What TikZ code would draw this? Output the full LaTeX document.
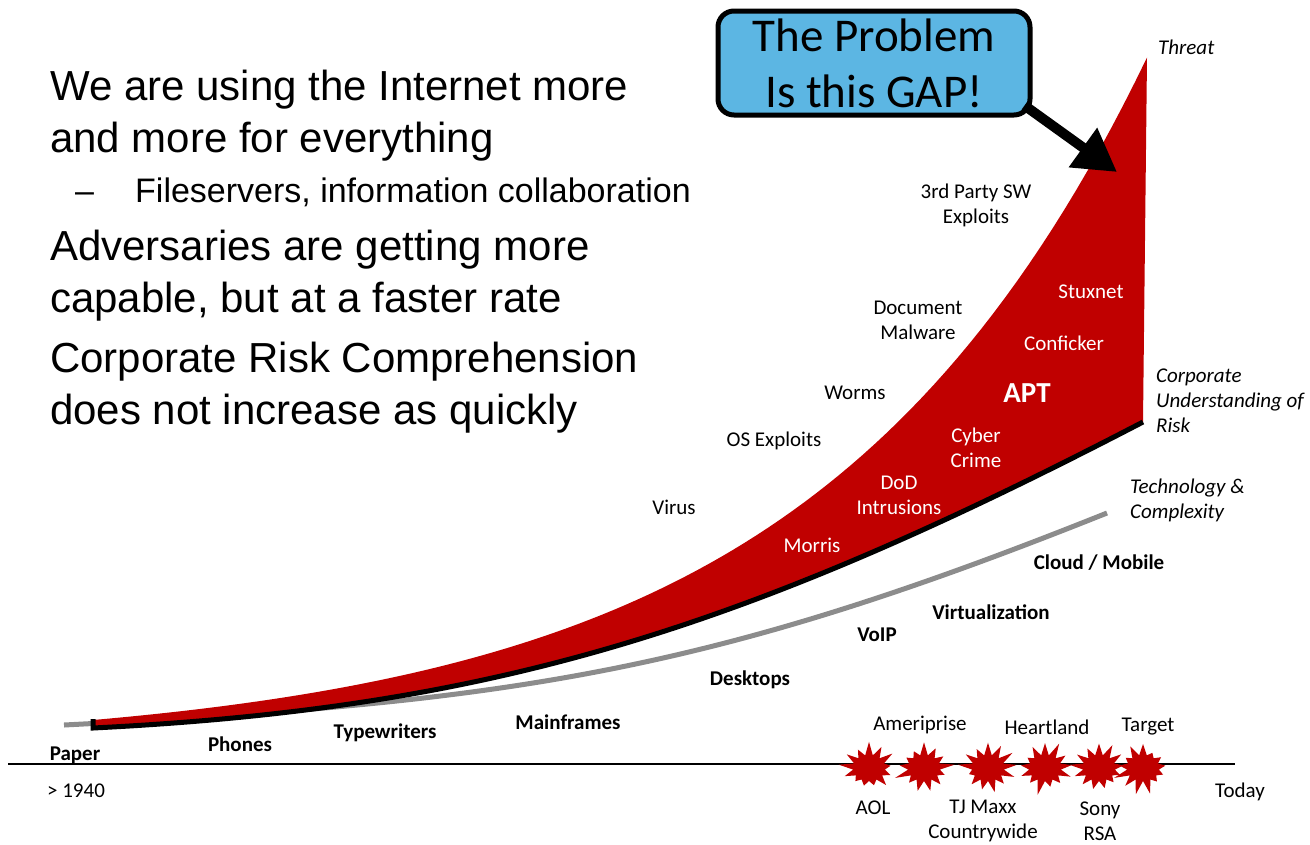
\documentclass[tikz,border=0pt]{standalone}
\usepackage{fontspec}
\usepackage{tikz}
\usetikzlibrary{arrows.meta,shapes.symbols}

\newfontfamily\slidefont{Liberation Sans}
\newfontfamily\labelfont{Carlito}

\definecolor{gapred}{RGB}{192,0,0}
\definecolor{techgrey}{RGB}{140,140,140}
\definecolor{calloutblue}{RGB}{92,182,227}

\begin{document}
\begin{tikzpicture}[x=1pt,y=-1pt,
	point/.style={font=\slidefont\fontsize{42}{52}\selectfont, anchor=west, align=left, inner sep=0pt},
	subpoint/.style={font=\slidefont\fontsize{34}{40}\selectfont, anchor=base west, inner sep=0pt},
	lbl/.style={font=\labelfont\fontsize{21}{25}\selectfont, align=center, inner sep=0pt},
	inlbl/.style={lbl, text=white},
	era/.style={lbl, font=\labelfont\bfseries\fontsize{21}{25}\selectfont},
	curvelbl/.style={lbl, font=\labelfont\itshape\fontsize{21}{25}\selectfont, anchor=west, align=left},
	burst/.style={starburst, starburst points=13, starburst point height=15pt, fill=gapred,
		minimum width=62pt, minimum height=56pt, inner sep=0pt}]
	\useasboundingbox (0,0) rectangle (1310,844);

	%bullet points
	\node[point] (pt1) at (50,116) {We are using the Internet more\\and more for everything};
	\node[subpoint] (dash) at (75,202) {–};
	\node[subpoint] (pt2) at (135,202) {Fileservers, information collaboration};
	\node[point] (pt3) at (50,276) {Adversaries are getting more\\capable, but at a faster rate};
	\node[point] (pt4) at (50,388) {Corporate Risk Comprehension\\does not increase as quickly};

	%technology curve
	\draw[techgrey, line width=5pt] (64,725) .. controls (514,702) and (707,673) .. (1107,513);

	%threat gap: exponential top edge, understanding of risk below
	\fill[gapred] plot[domain=93:1147, samples=90] (\x, {720 - 29.1*(exp(0.003*(\x-93))-1)})
		-- (1143,422) .. controls (743,630) and (493,708) .. (93,728) -- cycle;
	\draw[line width=5pt] (93,719) -- (93,728) .. controls (493,708) and (743,630) .. (1143,422);

	%timeline
	\coordinate (axisL) at (8,764);
	\coordinate (axisR) at (1235,764);
	\draw[line width=1.5pt] (axisL) -- (axisR);
	\foreach \x/\s in {869/1,924/2,988/3,1045/4,1099/5,1143/6}
		\node[burst, random starburst=\s7] (burst\s) at (\x,768) {};

	%callout
	\coordinate (gaptip) at (1117,172);
	\node[draw, line width=5pt, rounded corners=16pt, fill=calloutblue, minimum width=312pt, minimum height=104pt,
		align=center, font=\labelfont\fontsize{47}{56}\selectfont, inner sep=0pt] (callout) at (874,63) {The Problem\\Is this GAP!};
	\draw[line width=10pt, -{Triangle[length=42pt,width=46pt]}] ([shift={(-8,-12)}]callout.south east) -- (gaptip);

	%curve names
	\node[curvelbl] (threat) at (1158,47) {Threat};
	\node[curvelbl] (risk) at (1156,401) {Corporate\\Understanding of\\Risk};
	\node[curvelbl] (tech) at (1130,500) {Technology \&\\Complexity};

	%attacks outside the gap
	\node[lbl] (thirdparty) at (976,205) {3rd Party SW\\Exploits};
	\node[lbl] (docmal) at (918,320) {Document\\Malware};
	\node[lbl] (worms) at (855,393) {Worms};
	\node[lbl] (osexp) at (774,441) {OS Exploits};
	\node[lbl] (virus) at (674,507) {Virus};

	%attacks inside the gap
	\node[inlbl] (stuxnet) at (1091,292) {Stuxnet};
	\node[inlbl] (conficker) at (1064,343) {Conficker};
	\node[inlbl, font=\labelfont\bfseries\fontsize{29}{34}\selectfont] (apt) at (1027,393) {APT};
	\node[inlbl] (cyber) at (976,448) {Cyber\\Crime};
	\node[inlbl] (dod) at (899,495) {DoD\\Intrusions};
	\node[inlbl] (morris) at (812,545) {Morris};

	%technology eras
	\node[era] (cloud) at (1099,563) {Cloud / Mobile};
	\node[era] (virt) at (991,612) {Virtualization};
	\node[era] (voip) at (877,635) {VoIP};
	\node[era] (desktops) at (750,680) {Desktops};
	\node[era] (mainframes) at (568,722) {Mainframes};
	\node[era] (typewriters) at (385,733) {Typewriters};
	\node[era] (phones) at (240,744) {Phones};
	\node[era] (paper) at (75,755) {Paper};

	%dates and breaches
	\node[lbl] (start) at (76,791) {> 1940};
	\node[lbl] (today) at (1240,792) {Today};
	\node[lbl] (ameriprise) at (920,725) {Ameriprise};
	\node[lbl] (heartland) at (1047,727) {Heartland};
	\node[lbl] (target) at (1148,727) {Target};
	\node[lbl] (aol) at (873,808) {AOL};
	\node[lbl] (tjmaxx) at (983,821) {TJ Maxx\\Countrywide};
	\node[lbl] (sony) at (1100,821) {Sony\\RSA};
\end{tikzpicture}
\end{document}
